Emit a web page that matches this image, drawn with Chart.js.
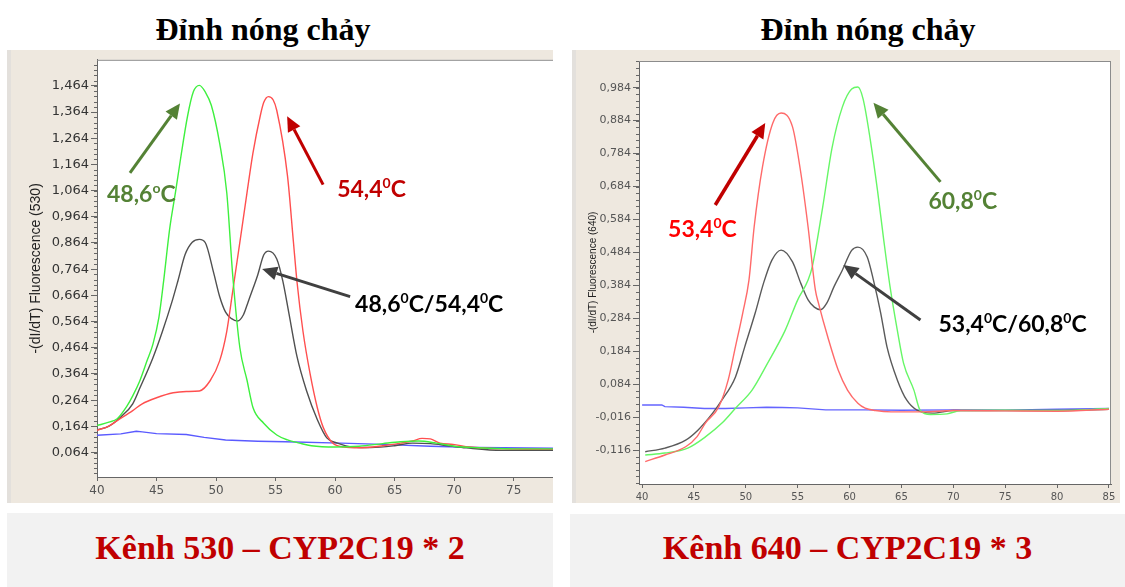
<!DOCTYPE html>
<html>
<head>
<meta charset="utf-8">
<title>Đỉnh nóng chảy</title>
<script src="https://cdn.jsdelivr.net/npm/chart.js@4.4.0/dist/chart.umd.min.js"></script>
<style>
  body { margin: 0; width: 1125px; height: 587px; position: relative; overflow: hidden; background: #fff; }
  .head { position: absolute; width: 400px; text-align: center; font-family: "Liberation Serif", "Times New Roman", serif;
          font-weight: bold; font-size: 32px; line-height: 32px; color: #000; white-space: nowrap; }
  .plot { position: absolute; background: #eee8df; box-shadow: inset 4px 0 0 #e3e0dc; }
  .cap { position: absolute; background: #f2f2f2; }
  .cap span { position: absolute; left: 0; right: 0; text-align: center; font-family: "Liberation Serif", "Times New Roman", serif;
              font-weight: bold; font-size: 34px; line-height: 34px; color: #c00000; white-space: nowrap; }
</style>
</head>
<body>
<div class="head" style="left:63px;top:13px">Đỉnh nóng chảy</div>
<div class="head" style="left:668px;top:13px">Đỉnh nóng chảy</div>

<canvas id="c530" class="plot" width="546" height="453" style="left:7px;top:50px"></canvas>
<canvas id="c640" class="plot" width="548" height="453" style="left:572px;top:50px"></canvas>

<div class="cap" style="left:7px;top:513px;width:546px;height:74px"><span style="top:18px">Kênh 530 – CYP2C19 * 2</span></div>
<div class="cap" style="left:570px;top:514px;width:555px;height:73px"><span style="top:17px">Kênh 640 – CYP2C19 * 3</span></div>

<script>
// peak temperatures (°C)
var peakA530 = 48.6, peakB530 = 54.4;
var peakA640 = 53.4, peakB640 = 60.8;

// ---- channel 530 ----
var xTicks530 = [40, 45, 50, 55, 60, 65, 70, 75];
var yTicks530 = [0.064, 0.164, 0.264, 0.364, 0.464, 0.564, 0.664, 0.764, 0.864, 0.964, 1.064, 1.164, 1.264, 1.364, 1.464];

var green530T = [40, 41, 41.7, 42.5, 43, 43.6, 44.2, 44.7, 45.2, 45.6, 46.1, 46.6, 47.0, 47.6, 48.1, peakA530, 49.1, 49.6, 50.3, 50.9, 51.4, 52.0, 52.6, 53.1, 54.0, 55.1, 56.0, 57.0, 58, 60, 62, 64, 65.5, 67, 68.5, 70, 72, 75, 78.3];
var green530V = [0.167, 0.18, 0.193, 0.24, 0.28, 0.338, 0.414, 0.478, 0.58, 0.72, 0.917, 1.06, 1.18, 1.347, 1.442, 1.466, 1.44, 1.39, 1.245, 1.056, 0.74, 0.464, 0.34, 0.236, 0.176, 0.131, 0.112, 0.10, 0.09, 0.085, 0.088, 0.098, 0.105, 0.108, 0.10, 0.088, 0.082, 0.078, 0.078];

var red530T = [40, 41, 41.7, 43.0, 43.8, 45.0, 46.4, 47.5, 48.6, 49.5, 50.3, 50.9, 51.4, 52.0, 52.6, 53.1, 53.7, 54.0, peakB530, 54.8, 55.1, 56.0, 56.5, 56.8, 57.3, 57.9, 58.5, 59.0, 59.8, 60.7, 62, 64, 65.5, 66.5, 67.3, 68.0, 68.8, 69.9, 71.3, 74, 78.3];
var red530V = [0.149, 0.165, 0.186, 0.224, 0.25, 0.273, 0.292, 0.297, 0.299, 0.338, 0.414, 0.527, 0.68, 0.867, 1.056, 1.208, 1.347, 1.40, 1.423, 1.41, 1.37, 1.12, 0.867, 0.715, 0.527, 0.364, 0.236, 0.16, 0.10, 0.085, 0.082, 0.09, 0.10, 0.108, 0.118, 0.116, 0.10, 0.095, 0.085, 0.078, 0.076];

var black530T = [40, 41, 42, 43, 43.6, 44.7, 45.5, 46.3, 46.8, 47.4, 48.0, peakA530, 49.1, 49.8, 50.3, 50.8, 51.3, 51.8, 52.3, 52.7, 53.1, 53.5, 54.0, peakB530, 55.1, 55.6, 56.1, 56.8, 57.6, 58.5, 59.3, 60.2, 61.5, 63, 65, 66.5, 68, 69.5, 71, 74, 78.3];
var black530V = [0.15, 0.165, 0.2, 0.25, 0.31, 0.426, 0.527, 0.64, 0.72, 0.82, 0.867, 0.878, 0.865, 0.75, 0.66, 0.60, 0.575, 0.566, 0.59, 0.64, 0.69, 0.742, 0.818, 0.833, 0.803, 0.72, 0.60, 0.43, 0.30, 0.19, 0.12, 0.10, 0.085, 0.083, 0.09, 0.10, 0.098, 0.09, 0.082, 0.072, 0.072];

var blue530T = [40, 42, 43.3, 43.8, 45, 47.5, 49, 50.8, 53.5, 55.8, 60.5, 64, 68, 72, 78.3];
var blue530V = [0.13, 0.135, 0.145, 0.143, 0.136, 0.133, 0.122, 0.112, 0.107, 0.105, 0.10, 0.095, 0.088, 0.083, 0.08];

// ---- channel 640 ----
var xTicks640 = [40, 45, 50, 55, 60, 65, 70, 75, 80, 85];
var yTicks640 = [-0.116, -0.016, 0.084, 0.184, 0.284, 0.384, 0.484, 0.584, 0.684, 0.784, 0.884, 0.984];

var red640T = [40.3, 42.2, 44.2, 45.3, 46.1, 47.4, 48.3, 49.0, 49.7, 50.3, 50.8, 51.6, 52.6, peakA640, 54.5, 55.3, 56.0, 56.7, 57.0, 57.9, 58.9, 59.8, 60.8, 61.5, 62.5, 64, 67, 70, 75, 80, 85];
var red640V = [-0.151, -0.131, -0.106, -0.075, -0.034, 0.016, 0.097, 0.198, 0.30, 0.40, 0.561, 0.743, 0.877, 0.907, 0.865, 0.725, 0.561, 0.37, 0.33, 0.227, 0.127, 0.066, 0.026, 0.011, 0.004, 0.0, 0.0, 0.004, 0.003, 0.002, 0.008];

var green640T = [40.3, 42.2, 44.4, 46.1, 47.7, 49.0, 50.6, 52.1, 53.8, 55.0, 56.0, 56.4, 57.4, 58.3, 59.3, 60.2, peakB640, 61.3, 62.0, 62.7, 63.3, 63.9, 64.6, 65.2, 66.2, 66.8, 67.8, 69.4, 70.7, 75, 80, 85];
var green640V = [-0.131, -0.125, -0.110, -0.076, -0.034, 0.011, 0.066, 0.148, 0.248, 0.34, 0.40, 0.44, 0.62, 0.80, 0.925, 0.98, 0.986, 0.95, 0.825, 0.67, 0.52, 0.38, 0.248, 0.148, 0.066, 0.005, -0.008, -0.006, 0.004, 0.005, 0.004, 0.01];

var black640T = [40.3, 42.2, 44.2, 45.4, 46.8, 47.7, 49.0, 49.9, 50.9, 51.7, 52.5, peakA640, 54.5, 55.3, 56.0, 56.6, 57.2, 57.8, 58.5, 59.3, 60.2, peakB640, 61.7, 62.3, 63.0, 63.6, 64.6, 65.5, 66.5, 68, 70, 75, 80, 85];
var black640V = [-0.121, -0.110, -0.086, -0.055, -0.004, 0.036, 0.106, 0.198, 0.30, 0.39, 0.46, 0.491, 0.455, 0.39, 0.34, 0.318, 0.31, 0.33, 0.38, 0.43, 0.49, 0.50, 0.47, 0.40, 0.30, 0.198, 0.097, 0.036, 0.005, -0.004, 0.004, 0.004, 0.004, 0.008];

var blue640T = [40, 41.9, 42.2, 44, 46, 48, 50, 52, 53.5, 55, 57.7, 61.5, 65, 70, 75, 80, 85];
var blue640V = [0.021, 0.021, 0.016, 0.014, 0.01, 0.01, 0.012, 0.014, 0.013, 0.012, 0.006, 0.006, 0.005, 0.006, 0.005, 0.008, 0.01];

function comma(v, d) { return v.toFixed(d).replace('.', ','); }

// "48,6°C" style label split into normal / superscript runs
function tempLabel(t, mark) { return [[comma(t, 1), false], [mark, true], ['C', false]]; }

function series(label, ts, vs, color, smooth) {
  return {
    label: label,
    data: ts.map(function (t, i) { return { x: t, y: vs[i] }; }),
    borderColor: color,
    borderWidth: 1.4,
    pointRadius: 0,
    fill: false,
    cubicInterpolationMode: smooth ? 'monotone' : 'default',
    tension: 0
  };
}

function drawNote(ctx, xs, ys, n) {
  var x0 = xs.getPixelForValue(n.from[0]), y0 = ys.getPixelForValue(n.from[1]);
  var x1 = xs.getPixelForValue(n.to[0]), y1 = ys.getPixelForValue(n.to[1]);
  var a = Math.atan2(y1 - y0, x1 - x0);
  var len = 15, half = 7;
  var bx = x1 - len * Math.cos(a), by = y1 - len * Math.sin(a);
  ctx.strokeStyle = n.arrow;
  ctx.fillStyle = n.arrow;
  ctx.lineWidth = n.width || 3;
  ctx.beginPath(); ctx.moveTo(x0, y0); ctx.lineTo(bx, by); ctx.stroke();
  ctx.beginPath();
  ctx.moveTo(x1, y1);
  ctx.lineTo(bx + half * Math.sin(a), by - half * Math.cos(a));
  ctx.lineTo(bx - half * Math.sin(a), by + half * Math.cos(a));
  ctx.closePath(); ctx.fill();

  var lx = xs.getPixelForValue(n.at[0]), ly = ys.getPixelForValue(n.at[1]);
  ctx.fillStyle = n.color;
  ctx.textAlign = 'left';
  ctx.textBaseline = 'alphabetic';
  n.text.forEach(function (run) {
    ctx.font = run[1] ? 'bold 14px Lato' : 'bold 23px Lato';
    ctx.fillText(run[0], lx, run[1] ? ly - 9 : ly);
    lx += ctx.measureText(run[0]).width;
  });
}

// white plot area, frame edges, minor y ticks and the arrow notes
var meltDecor = {
  id: 'meltDecor',
  beforeDraw: function (chart) {
    var c = chart.ctx, a = chart.chartArea;
    c.save();
    c.fillStyle = '#fff';
    c.fillRect(a.left, a.top, a.right - a.left, a.bottom - a.top);
    c.restore();
  },
  afterDraw: function (chart, args, opts) {
    var c = chart.ctx, a = chart.chartArea, ys = chart.scales.y, xs = chart.scales.x;
    c.save();
    c.strokeStyle = '#8c8c8c';
    c.lineWidth = 1;
    c.beginPath();
    c.moveTo(a.left, a.top + 0.5); c.lineTo(a.right, a.top + 0.5);
    if (opts.rightEdge) { c.moveTo(a.right - 0.5, a.top); c.lineTo(a.right - 0.5, a.bottom); }
    c.stroke();

    c.strokeStyle = '#666';
    c.beginPath();
    var step = 0.02, first = opts.ticks[0];
    while (first - step > ys.min) first -= step;
    for (var v = first; v < ys.max; v += step) {
      var py = Math.round(ys.getPixelForValue(v)) + 0.5;
      c.moveTo(a.left - 3, py); c.lineTo(a.left, py);
    }
    c.stroke();

    opts.notes.forEach(function (n) { drawNote(c, xs, ys, n); });
    c.restore();
  }
};

function meltChart(id, cfg) {
  return new Chart(document.getElementById(id), {
    type: 'line',
    data: { datasets: cfg.datasets },
    options: {
      responsive: false,
      animation: false,
      layout: { padding: cfg.pad },
      plugins: {
        legend: { display: false },
        tooltip: { enabled: false },
        meltDecor: { ticks: cfg.yTicks, notes: cfg.notes, rightEdge: cfg.rightEdge }
      },
      scales: {
        x: {
          type: 'linear', min: cfg.xMin, max: cfg.xMax,
          afterFit: function (s) { s.height = cfg.xH; },
          afterBuildTicks: function (s) { s.ticks = cfg.xTicks.map(function (v) { return { value: v }; }); },
          grid: { drawOnChartArea: false, tickLength: 4, color: '#666' },
          border: { color: '#666' },
          ticks: { autoSkip: false, maxRotation: 0, padding: 3, color: '#555',
                   font: { family: 'DejaVu Sans', size: cfg.xFont } }
        },
        y: {
          type: 'linear', min: cfg.yMin, max: cfg.yMax,
          afterFit: function (s) { s.width = cfg.yW; },
          afterBuildTicks: function (s) { s.ticks = cfg.yTicks.map(function (v) { return { value: v }; }); },
          grid: { drawOnChartArea: false, tickLength: 6, color: '#666' },
          border: { color: '#666' },
          ticks: { autoSkip: false, padding: 2, color: cfg.yColor,
                   font: { family: 'DejaVu Sans', size: cfg.yFont },
                   callback: function (v) { return comma(v, 3); } },
          title: { display: true, text: cfg.yTitle, color: '#222',
                   font: { family: 'Liberation Sans', size: cfg.titleFont },
                   padding: { top: cfg.titlePad } }
        }
      }
    },
    plugins: [meltDecor]
  });
}

meltChart('c530', {
  datasets: [
    series('Xanh', green530T, green530V, '#3ef03e', true),
    series('Đỏ', red530T, red530V, '#ff4f4f', true),
    series('Đen', black530T, black530V, '#505050', true),
    series('Xanh dương', blue530T, blue530V, '#5a5aff', false)
  ],
  pad: { top: 6, right: 0, bottom: 0, left: 0 },
  xMin: 40, xMax: 78.3, xTicks: xTicks530, xH: 26, xFont: 12,
  yMin: -0.0295, yMax: 1.5635, yTicks: yTicks530, yW: 90, yFont: 13, yColor: '#333',
  yTitle: '-(dI/dT) Fluorescence (530)', titleFont: 14, titlePad: 21,
  rightEdge: false,
  notes: [
    { from: [42.77, 1.132], to: [46.97, 1.397], arrow: '#548235', color: '#548235', at: [40.84, 1.019], text: tempLabel(peakA530, 'o') },
    { from: [58.99, 1.087], to: [55.97, 1.348], arrow: '#c00000', color: '#c00000', at: [60.17, 1.038], text: tempLabel(peakB530, '0') },
    { from: [61.26, 0.659], to: [53.87, 0.765], arrow: '#404040', color: '#000', at: [61.68, 0.599],
      text: tempLabel(peakA530, '0').concat([['/', false]], tempLabel(peakB530, '0')) }
  ]
});

meltChart('c640', {
  datasets: [
    series('Đỏ', red640T, red640V, '#ff6a6a', true),
    series('Xanh', green640T, green640V, '#66f766', true),
    series('Đen', black640T, black640V, '#5a5a5a', true),
    series('Xanh dương', blue640T, blue640V, '#6464ff', false)
  ],
  pad: { top: 11, right: 9, bottom: 0, left: 0 },
  xMin: 39.7, xMax: 85.2, xTicks: xTicks640, xH: 19, xFont: 10,
  yMin: -0.219, yMax: 1.065, yTicks: yTicks640, yW: 67, yFont: 11, yColor: '#555',
  yTitle: '-(dI/dT) Fluorescence (640)', titleFont: 10, titlePad: 15,
  rightEdge: true,
  notes: [
    { from: [47.05, 0.628], to: [51.87, 0.877], arrow: '#c00000', color: '#ff0000', at: [42.5, 0.531], text: tempLabel(peakA640, '0'), width: 3.5 },
    { from: [68.76, 0.698], to: [62.3, 0.938], arrow: '#548235', color: '#548235', at: [67.6, 0.616], text: tempLabel(peakB640, '0') },
    { from: [66.83, 0.279], to: [59.4, 0.446], arrow: '#404040', color: '#000', at: [68.57, 0.242],
      text: tempLabel(peakA640, '0').concat([['/', false]], tempLabel(peakB640, '0')) }
  ]
});
</script>
</body>
</html>
